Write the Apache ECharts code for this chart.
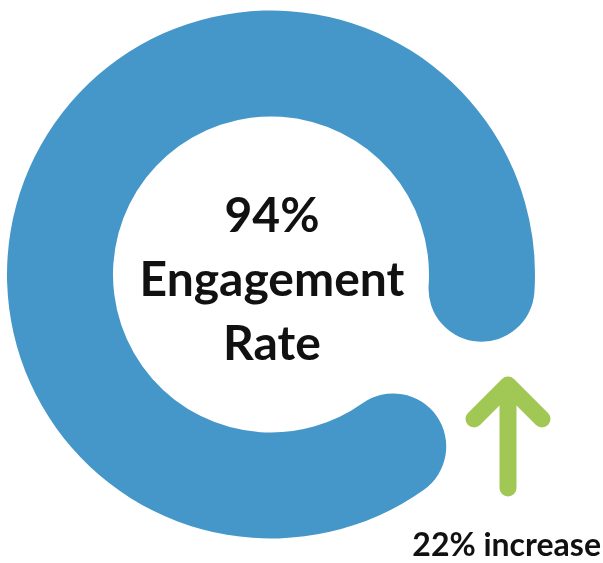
<!DOCTYPE html>
<html>
<head>
<meta charset="utf-8">
<script src="https://cdn.jsdelivr.net/npm/echarts@6/dist/echarts.min.js"></script>
<style>
  html, body { margin: 0; padding: 0; background: #ffffff; }
  #chart { width: 603px; height: 563px; }
</style>
</head>
<body>
<div id="chart"></div>
<script>
// Data
const metricName = 'Engagement Rate';
const engagementRate = [94];      // percent shown by the ring
const increaseLabel = ['22% increase'];

const chart = echarts.init(document.getElementById('chart'), null, { renderer: 'canvas' });

const option = {
  backgroundColor: '#ffffff',
  animation: false,
  series: [{
    type: 'gauge',
    center: [271, 274.5],
    radius: 264,
    startAngle: 305.4,
    endAngle: -23.6,
    min: 0,
    max: 100,
    clockwise: true,
    progress: {
      show: true,
      width: 106,
      roundCap: true,
      itemStyle: { color: '#4497c8' }
    },
    axisLine: { show: false, lineStyle: { width: 106 } },
    splitLine: { show: false },
    axisTick: { show: false },
    axisLabel: { show: false },
    pointer: { show: false },
    anchor: { show: false },
    title: { show: false },
    detail: {
      show: true,
      offsetCenter: [1, 6],
      formatter: function (v) {
        return v + '%\n' + metricName.replace(' ', '\n');
      },
      fontFamily: 'Lato',
      fontWeight: 'bold',
      fontSize: 48,
      lineHeight: 64,
      color: '#111111'
    },
    data: [{ value: engagementRate[0] }]
  }],
  graphic: [
    {
      type: 'polyline',
      shape: { points: [[508, 488], [508, 386]] },
      style: { stroke: '#a1c854', lineWidth: 17, lineCap: 'round', lineJoin: 'round', fill: null }
    },
    {
      type: 'polyline',
      shape: { points: [[474, 419], [508, 385], [542, 419]] },
      style: { stroke: '#a1c854', lineWidth: 17, lineCap: 'round', lineJoin: 'round', fill: null }
    },
    {
      type: 'text',
      x: 601,
      y: 546,
      style: {
        text: increaseLabel[0],
        fontFamily: 'Lato',
        fontWeight: 'bold',
        fontSize: 32,
        fill: '#111111',
        align: 'right',
        verticalAlign: 'middle'
      }
    }
  ]
};

chart.setOption(option);
</script>
</body>
</html>
